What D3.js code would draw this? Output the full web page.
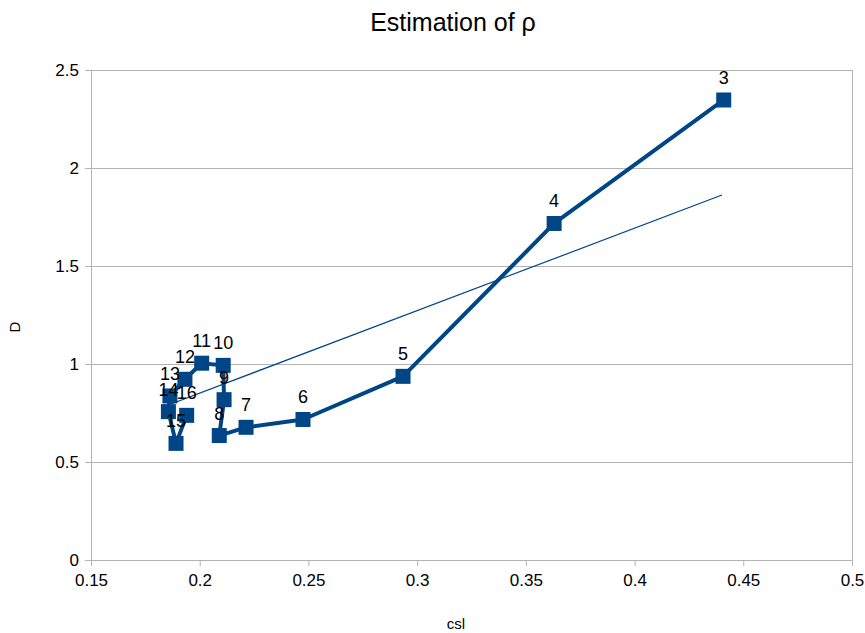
<!DOCTYPE html>
<html>
<head>
<meta charset="utf-8">
<script src="https://cdn.jsdelivr.net/npm/d3@7"></script>
<style>
  body { margin: 0; background: #fff; }
  svg { font-family: "Liberation Sans", Arial, sans-serif; }
</style>
</head>
<body>
<svg id="chart" width="865" height="633"></svg>
<script>
// point labels and values
const labels = [3, 4, 5, 6, 7, 8, 9, 10, 11, 12, 13, 14, 15, 16];
const cslValues = [0.441, 0.363, 0.2935, 0.2475, 0.2213, 0.209, 0.2112, 0.2108, 0.2009, 0.1932, 0.1863, 0.1856, 0.1891, 0.1940];
const dValues = [2.347, 1.717, 0.937, 0.717, 0.677, 0.635, 0.818, 0.993, 1.004, 0.922, 0.837, 0.757, 0.595, 0.738];
// trend line end points
const trendX = [0.1856, 0.4402];
const trendY = [0.791, 1.862];
const xTicks = [0.15, 0.2, 0.25, 0.3, 0.35, 0.4, 0.45, 0.5];
const yTicks = [0, 0.5, 1, 1.5, 2, 2.5];

const blue = '#004586';
const grid = '#b3b3b3';
const margin = {left: 91, right: 13, top: 70, bottom: 73};
const width = 865, height = 633;

const svg = d3.select('#chart');

const x = d3.scaleLinear().domain([0.15, 0.5]).range([margin.left, width - margin.right]);
const y = d3.scaleLinear().domain([0, 2.5]).range([height - margin.bottom, margin.top]);

// title
svg.append('text')
.attr('x', 453).attr('y', 31)
.attr('text-anchor', 'middle')
.attr('font-size', 25)
.text('Estimation of ρ');

// horizontal grid
svg.append('g')
.selectAll('line')
.data(yTicks)
.join('line')
.attr('x1', x(0.15)).attr('x2', x(0.5))
.attr('y1', d => y(d)).attr('y2', d => y(d))
.attr('stroke', grid).attr('stroke-width', 1)
.attr('shape-rendering', 'crispEdges');

// right border
svg.append('line')
.attr('x1', x(0.5)).attr('x2', x(0.5))
.attr('y1', y(0)).attr('y2', y(2.5))
.attr('stroke', grid)
.attr('shape-rendering', 'crispEdges');

const xAxis = svg.append('g')
.attr('transform', `translate(0,${y(0)})`)
.call(d3.axisBottom(x).tickValues(xTicks).tickSize(6).tickPadding(8).tickFormat(d3.format('')));
const yAxis = svg.append('g')
.attr('transform', `translate(${x(0.15)},0)`)
.call(d3.axisLeft(y).tickValues(yTicks).tickSize(6).tickPadding(6).tickFormat(d3.format('')));

[xAxis, yAxis].forEach(g => {
    g.select('.domain').attr('stroke', grid);
    g.selectAll('.tick line').attr('stroke', grid);
    g.selectAll('.tick text')
    .attr('font-family', '"Liberation Sans", Arial, sans-serif')
    .attr('font-size', 17)
    .attr('fill', '#000');
});

// axis titles
svg.append('text')
.attr('x', 456).attr('y', 629)
.attr('text-anchor', 'middle')
.attr('font-size', 15)
.text('csl');
svg.append('text')
.attr('transform', `translate(20,${327}) rotate(-90)`)
.attr('text-anchor', 'middle')
.attr('font-size', 15)
.text('D');

const points = labels.map((l, i) => ({label: l, x: cslValues[i], y: dValues[i]}));

// data line
svg.append('path')
.datum(points)
.attr('fill', 'none')
.attr('stroke', blue)
.attr('stroke-width', 4)
.attr('stroke-linejoin', 'round')
.attr('d', d3.line().x(d => x(d.x)).y(d => y(d.y)));

// trend line
svg.append('line')
.attr('x1', x(trendX[0])).attr('y1', y(trendY[0]))
.attr('x2', x(trendX[1])).attr('y2', y(trendY[1]))
.attr('stroke', blue).attr('stroke-width', 1.2);

// markers
const size = 15;
svg.append('g')
.selectAll('rect')
.data(points)
.join('rect')
.attr('x', d => x(d.x) - size / 2)
.attr('y', d => y(d.y) - size / 2)
.attr('width', size).attr('height', size)
.attr('fill', blue);

// point labels
svg.append('g')
.selectAll('text')
.data(points)
.join('text')
.attr('x', d => x(d.x))
.attr('y', d => y(d.y) - 16)
.attr('text-anchor', 'middle')
.attr('font-size', 18)
.text(d => d.label);
</script>
</body>
</html>
